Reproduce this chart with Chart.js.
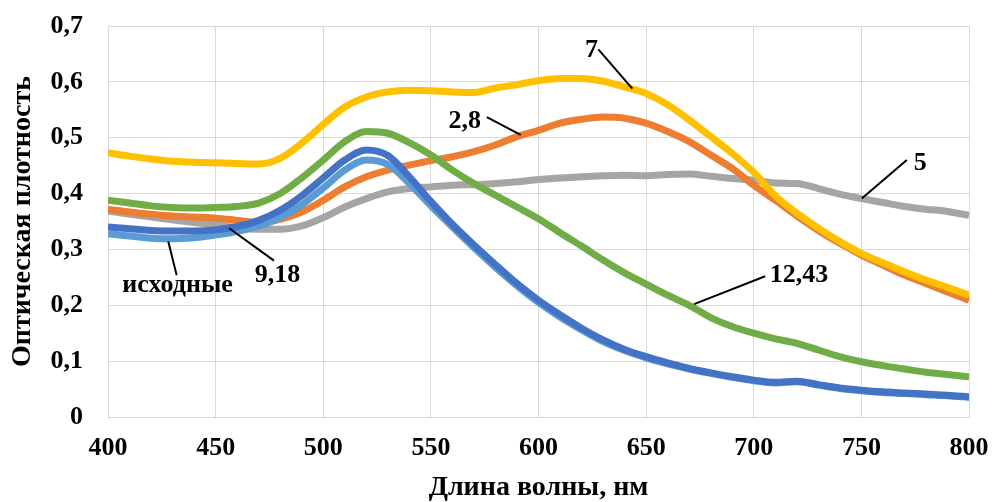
<!DOCTYPE html>
<html>
<head>
<meta charset="utf-8">
<script src="https://cdn.jsdelivr.net/npm/chart.js@4"></script>
<style>
  body { margin: 0; background: #fff; }
</style>
</head>
<body>
<canvas id="spectra" width="993" height="502"></canvas>
<script>
// wavelengths, nm
var wavelengths = [400,410,420,430,440,450,460,470,480,490,500,510,520,530,540,550,560,570,580,590,600,
  610,620,630,640,650,660,670,680,690,700,710,720,730,740,750,760,770,780,790,800];

// optical density of each sample
var od7 = [0.473,0.467,0.462,0.458,0.456,0.455,0.454,0.453,0.463,0.490,0.524,0.555,0.573,0.582,0.585,0.584,0.582,0.581,0.589,0.595,0.602,
  0.606,0.606,0.601,0.591,0.579,0.559,0.532,0.502,0.472,0.438,0.396,0.365,0.338,0.314,0.293,0.276,0.260,0.245,0.232,0.218];
var od28 = [0.372,0.367,0.363,0.360,0.358,0.356,0.352,0.348,0.354,0.367,0.388,0.412,0.430,0.442,0.451,0.459,0.466,0.475,0.487,0.502,0.513,
  0.526,0.533,0.537,0.535,0.526,0.511,0.493,0.469,0.445,0.415,0.388,0.360,0.334,0.311,0.290,0.272,0.254,0.239,0.224,0.209];
var od5 = [0.369,0.363,0.358,0.353,0.348,0.344,0.339,0.336,0.336,0.342,0.357,0.376,0.391,0.403,0.409,0.412,0.415,0.416,0.418,0.421,0.425,
  0.428,0.430,0.432,0.433,0.432,0.434,0.435,0.431,0.427,0.424,0.419,0.418,0.409,0.399,0.391,0.384,0.377,0.372,0.368,0.361];
var od1243 = [0.388,0.383,0.378,0.375,0.374,0.375,0.377,0.383,0.400,0.428,0.460,0.493,0.511,0.508,0.491,0.469,0.442,0.418,0.397,0.376,0.355,
  0.330,0.306,0.281,0.258,0.238,0.218,0.200,0.178,0.162,0.150,0.140,0.132,0.120,0.108,0.099,0.092,0.086,0.080,0.076,0.072];
var od918 = [0.340,0.337,0.334,0.333,0.333,0.335,0.341,0.352,0.370,0.396,0.428,0.460,0.478,0.468,0.430,0.386,0.345,0.308,0.273,0.239,0.209,
  0.183,0.159,0.138,0.121,0.108,0.097,0.087,0.079,0.072,0.066,0.062,0.064,0.058,0.052,0.048,0.045,0.043,0.041,0.039,0.036];
var odInit = [0.328,0.324,0.320,0.319,0.321,0.326,0.332,0.342,0.357,0.380,0.410,0.442,0.460,0.452,0.418,0.378,0.340,0.303,0.268,0.235,0.205,
  0.179,0.156,0.135,0.119,0.106,0.095,0.086,0.078,0.071,0.065,0.061,0.063,0.057,0.051,0.047,0.044,0.042,0.040,0.038,0.035];

// curve labels: text, text position (nm, OD at baseline), leader line from/to (nm, OD)
var labelTexts = ["7", "2,8", "5", "12,43", "9,18", "исходные"];
var labelAt = [[624.6,0.644],[565.7,0.517],[777.3,0.442],[721,0.242],[478.8,0.242],[432.3,0.224]];
var leaderFrom = [[627.8,0.658],[576,0.537],[771.1,0.46],[705.3,0.252],[477.1,0.28],[431.9,0.254]];
var leaderTo = [[643.6,0.588],[591.7,0.505],[750.2,0.391],[672.3,0.202],[456.3,0.338],[428,0.314]];

function pts(vals) {
  var out = [];
  for (var i = 0; i < wavelengths.length; i++) out.push({x: wavelengths[i], y: vals[i]});
  return out;
}

function line(vals, color) {
  return {
    data: pts(vals),
    borderColor: color,
    backgroundColor: color,
    borderWidth: 7,
    pointRadius: 0,
    cubicInterpolationMode: 'monotone',
    fill: false
  };
}

var serif = 'Liberation Serif, Times New Roman, serif';

var curveLabels = {
  id: 'curveLabels',
  afterDatasetsDraw: function(chart) {
    var ctx = chart.ctx, xs = chart.scales.x, ys = chart.scales.y;
    ctx.save();
    ctx.strokeStyle = '#000';
    ctx.lineWidth = 2;
    for (var i = 0; i < labelTexts.length; i++) {
      ctx.beginPath();
      ctx.moveTo(xs.getPixelForValue(leaderFrom[i][0]), ys.getPixelForValue(leaderFrom[i][1]));
      ctx.lineTo(xs.getPixelForValue(leaderTo[i][0]), ys.getPixelForValue(leaderTo[i][1]));
      ctx.stroke();
    }
    ctx.fillStyle = '#000';
    ctx.font = 'bold 26px ' + serif;
    ctx.textAlign = 'center';
    ctx.textBaseline = 'alphabetic';
    for (var i = 0; i < labelTexts.length; i++) {
      ctx.fillText(labelTexts[i], xs.getPixelForValue(labelAt[i][0]), ys.getPixelForValue(labelAt[i][1]));
    }
    ctx.restore();
  }
};

var gridColor = '#d9d9d9';

new Chart(document.getElementById('spectra'), {
  type: 'line',
  data: {
    // first dataset ends up on top
    datasets: [
      line(od7, '#ffc000'),
      line(od918, '#4472c4'),
      line(odInit, '#5b9bd5'),
      line(od1243, '#70ad47'),
      line(od28, '#ed7d31'),
      line(od5, '#a5a5a5')
    ]
  },
  options: {
    responsive: false,
    animation: false,
    layout: { padding: { top: 26, right: 24, left: 0, bottom: 0 } },
    plugins: { legend: { display: false }, tooltip: { enabled: false } },
    scales: {
      x: {
        type: 'linear',
        min: 400, max: 800,
        afterFit: function(s) { s.height = 85; s.paddingLeft = 0; s.paddingRight = 0; },
        grid: { color: gridColor, drawTicks: false },
        border: { color: gridColor },
        ticks: { stepSize: 50, padding: 16, color: '#000', font: { family: serif, size: 26, weight: 'bold' } },
        title: { display: true, text: 'Длина волны, нм', color: '#000', padding: { top: 0, bottom: -3 },
          font: { family: serif, size: 28, weight: 'bold' } }
      },
      y: {
        min: 0, max: 0.7,
        afterFit: function(s) { s.width = 108; s.paddingTop = 0; s.paddingBottom = 0; },
        grid: { color: gridColor, drawTicks: false },
        border: { color: gridColor },
        ticks: {
          stepSize: 0.1, padding: 25, color: '#000',
          font: { family: serif, size: 26, weight: 'bold' },
          callback: function(v) { return (Math.round(v * 10) / 10).toString().replace('.', ','); }
        },
        title: { display: true, text: 'Оптическая плотность', color: '#000', padding: { top: 6, bottom: 0 },
          font: { family: serif, size: 28, weight: 'bold' } }
      }
    }
  },
  plugins: [curveLabels]
});
</script>
</body>
</html>
